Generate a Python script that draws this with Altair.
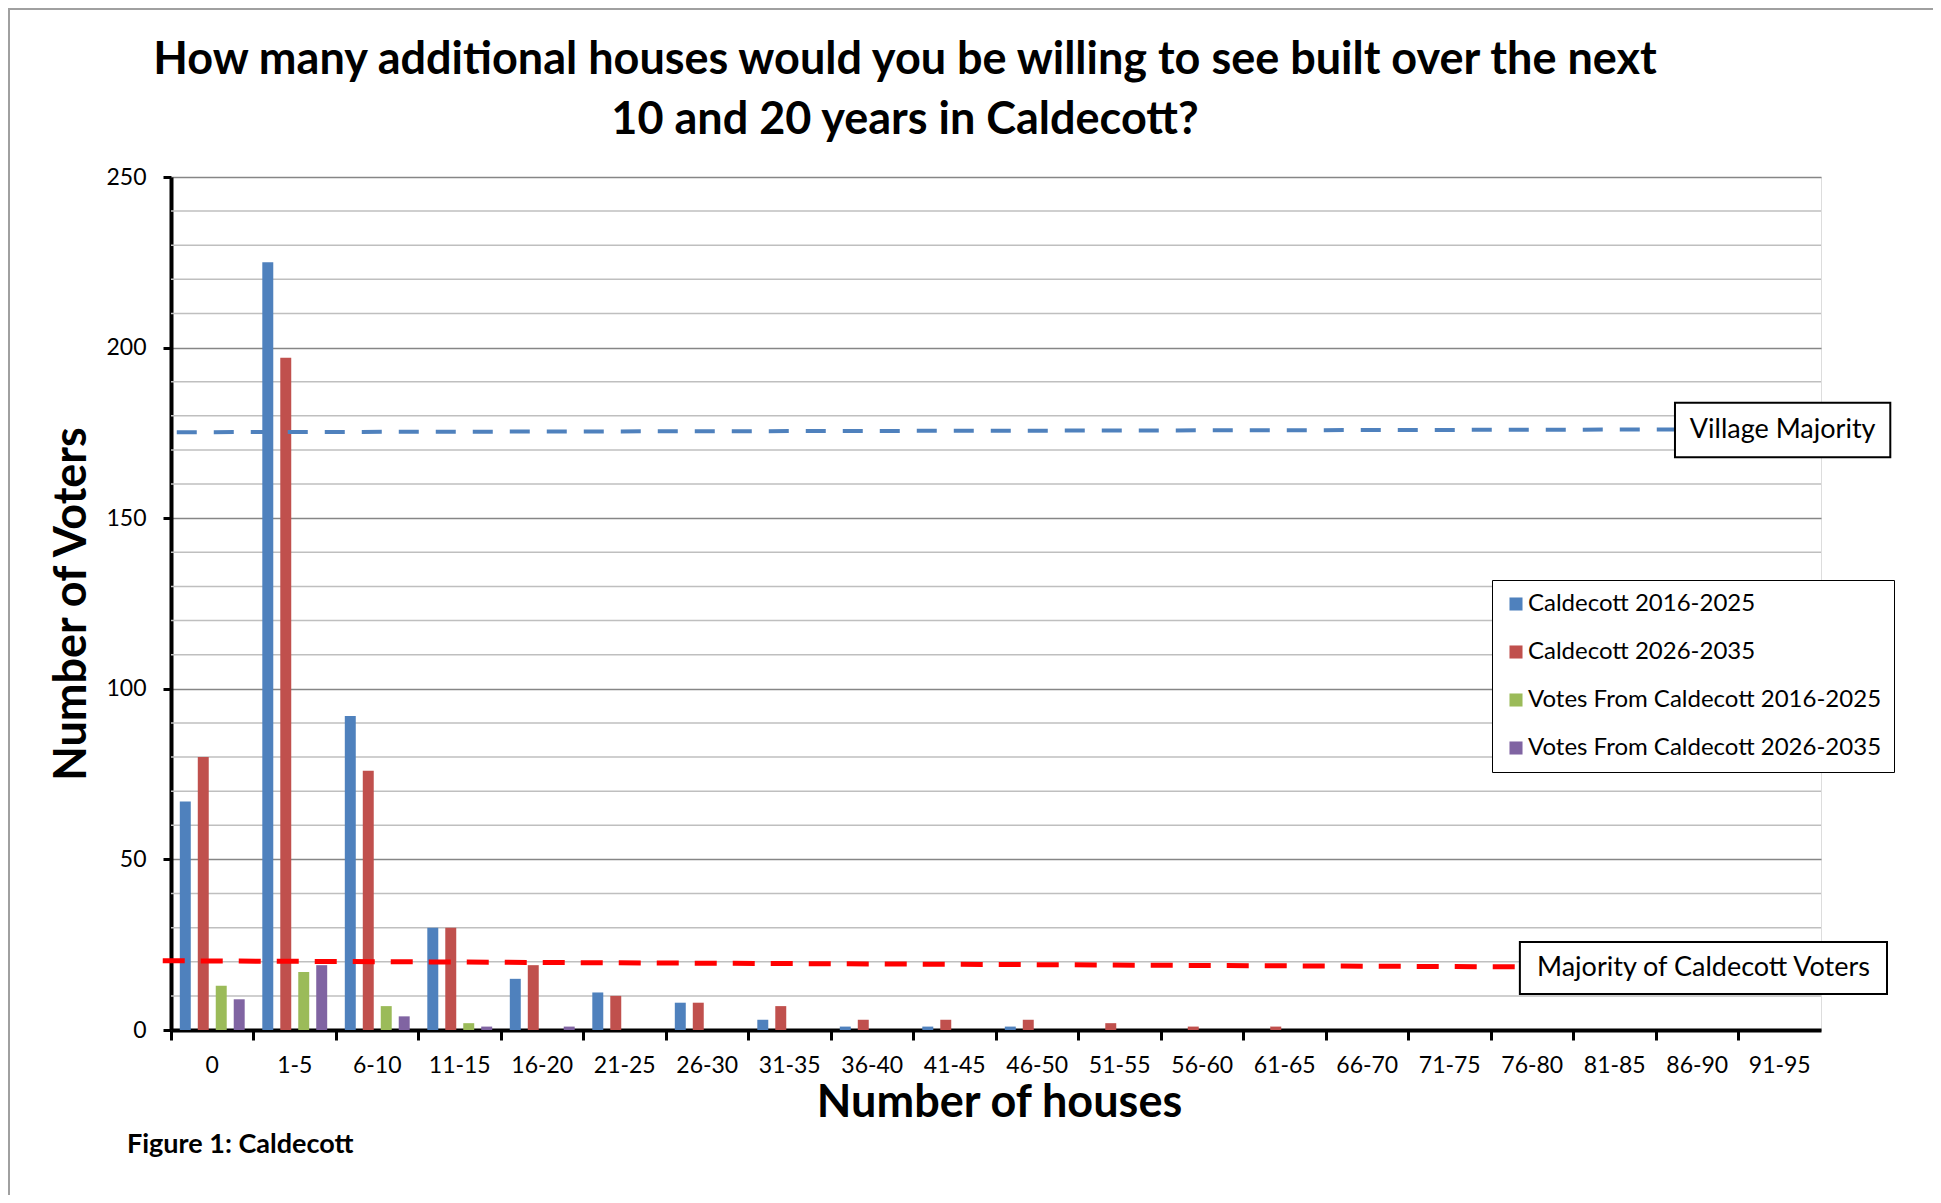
import altair as alt
import pandas as pd

categories = ["0", "1-5", "6-10", "11-15", "16-20", "21-25", "26-30", "31-35", "36-40",
              "41-45", "46-50", "51-55", "56-60", "61-65", "66-70", "71-75", "76-80",
              "81-85", "86-90", "91-95"]
series_names = ["Caldecott 2016-2025", "Caldecott 2026-2035",
                "Votes From Caldecott 2016-2025", "Votes From Caldecott 2026-2035"]
colors = ["#4F81BD", "#C0504D", "#9BBB59", "#8064A2"]

cald_2016 = [67, 225, 92, 30, 15, 11, 8, 3, 1, 1, 1, 0, 0, 0, 0, 0, 0, 0, 0, 0]
cald_2026 = [80, 197, 76, 30, 19, 10, 8, 7, 3, 3, 3, 2, 1, 1, 0, 0, 0, 0, 0, 0]
votes_2016 = [13, 17, 7, 2, 0, 0, 0, 0, 0, 0, 0, 0, 0, 0, 0, 0, 0, 0, 0, 0]
votes_2026 = [9, 19, 4, 1, 1, 0, 0, 0, 0, 0, 0, 0, 0, 0, 0, 0, 0, 0, 0, 0]

y_major_ticks = [0, 50, 100, 150, 200, 250]
y_minor_grid = [v for v in range(10, 251, 10) if v % 50 != 0]

# threshold lines (x in category units, y in voters)
village_x = [0.07, 18.23]
village_y = [175.2, 176.0]
majority_x = [-0.1, 16.35]
majority_y = [20.3, 18.5]

title_lines = ["How many additional houses would you be willing to see built over the next",
               "10 and 20 years in Caldecott?"]

rows = []
for name, vals in zip(series_names, [cald_2016, cald_2026, votes_2016, votes_2026]):
    for c, v in zip(categories, vals):
        rows.append({"category": c, "series": name, "value": v})
df = pd.DataFrame(rows)

W, H = 1650, 853
FONT = "Lato"

yscale = alt.Scale(domain=[0, 250], nice=False)

minor_grid = alt.Chart(pd.DataFrame({"g": y_minor_grid})).mark_rule(
    color="#BFBFBF", strokeWidth=1.5).encode(
    y=alt.Y("g:Q", scale=yscale), x=alt.value(0), x2=alt.value(W))

bars = alt.Chart(df).mark_bar().encode(
    x=alt.X("category:N", sort=categories,
            scale=alt.Scale(paddingInner=0, paddingOuter=0),
            axis=alt.Axis(title="Number of houses", labelAngle=0, bandPosition=0,
                          labelFontSize=23, labelFont=FONT,
                          labelColor="black", labelPadding=14,
                          domainColor="black", domainWidth=4,
                          tickColor="black", tickWidth=3, tickSize=10, grid=False,
                          titleFontSize=45, titleFont=FONT, titleFontWeight="bold",
                          titleColor="black", titleX=828, titleY=72,
                          titleBaseline="middle", titleAlign="center")),
    xOffset=alt.XOffset("series:N", sort=series_names,
                        scale=alt.Scale(paddingInner=0.39, paddingOuter=0.49)),
    y=alt.Y("value:Q", scale=yscale,
            axis=alt.Axis(title="Number of Voters", values=y_major_ticks,
                          labelOverlap=False,
                          labelFontSize=23, labelFont=FONT, labelColor="black",
                          labelPadding=17,
                          domainColor="black", domainWidth=4,
                          tickColor="black", tickWidth=3, tickSize=8,
                          gridColor="#868686", gridWidth=1.5,
                          titleFontSize=45, titleFont=FONT, titleFontWeight="bold",
                          titleColor="black", titleX=-100, titleY=H / 2,
                          titleAngle=270, titleBaseline="middle", titleAlign="center")),
    color=alt.Color("series:N", sort=series_names,
                    scale=alt.Scale(domain=series_names, range=colors),
                    legend=alt.Legend(title=None, orient="none", legendX=1321, legendY=403,
                                      fillColor="white", strokeColor="black",
                                      padding=12, labelFontSize=24, labelFont=FONT,
                                      labelColor="black", symbolType="square",
                                      symbolSize=170, symbolStrokeWidth=0,
                                      rowPadding=24, labelLimit=0, labelOffset=0)),
)

xq = alt.Scale(domain=[0, 20], nice=False, zero=False)

village_df = pd.DataFrame({"gx": village_x, "v": village_y})
majority_df = pd.DataFrame({"gx": majority_x, "v": majority_y})

village_line = alt.Chart(village_df).mark_line(
    color="#4F81BD", strokeWidth=4, strokeDash=[20, 17]).encode(
    x=alt.X("gx:Q", scale=xq, axis=None), y=alt.Y("v:Q", scale=yscale))
majority_line = alt.Chart(majority_df).mark_line(
    color="#FF0000", strokeWidth=5, strokeDash=[22, 16]).encode(
    x=alt.X("gx:Q", scale=xq, axis=None), y=alt.Y("v:Q", scale=yscale))

boxes_df = pd.DataFrame({
    "label": ["Village Majority", "Majority of Caldecott Voters"],
    "x0": [18.23, 16.35], "x1": [20.84, 20.8],
    "y0": [167.9, 10.55], "y1": [183.8, 25.8],
    "tx": [19.535, 18.575], "ty": [175.8, 18.2],
})
boxes = alt.Chart(boxes_df).mark_rect(fill="white", stroke="black", strokeWidth=2).encode(
    x=alt.X("x0:Q", scale=xq, axis=None), x2="x1",
    y=alt.Y("y0:Q", scale=yscale), y2="y1")
box_text = alt.Chart(boxes_df).mark_text(fontSize=27, font=FONT, color="black").encode(
    x=alt.X("tx:Q", scale=xq, axis=None), y=alt.Y("ty:Q", scale=yscale), text="label:N")

dummy = pd.DataFrame({"a": [0]})
border = alt.Chart(dummy).mark_rect(fill="transparent", stroke="#A0A0A0", strokeWidth=2).encode(
    x=alt.value(-162), y=alt.value(-168), x2=alt.value(W + 400), y2=alt.value(H + 400))
fig_label = alt.Chart(dummy).mark_text(
    text="Figure 1: Caldecott", fontSize=27, font=FONT, fontWeight="bold",
    align="left", baseline="middle", color="black").encode(
    x=alt.value(-44), y=alt.value(968))
title_mark = alt.Chart(dummy).mark_text(
    text=title_lines, fontSize=45, font=FONT, fontWeight="bold", lineHeight=60,
    align="center", baseline="middle", color="black").encode(
    x=alt.value(734), y=alt.value(-117))

chart = alt.layer(
    border, minor_grid, bars, village_line, majority_line, boxes, box_text, fig_label, title_mark
).resolve_scale(x="independent", xOffset="independent").properties(
    width=W, height=H,
    autosize=alt.AutoSizeParams(type="none"),
    padding={"left": 163, "top": 169, "right": 112, "bottom": 165},
).configure_view(stroke=None).configure(background="white")

chart.save("out.html", embed_options={"renderer": "svg", "actions": False})
